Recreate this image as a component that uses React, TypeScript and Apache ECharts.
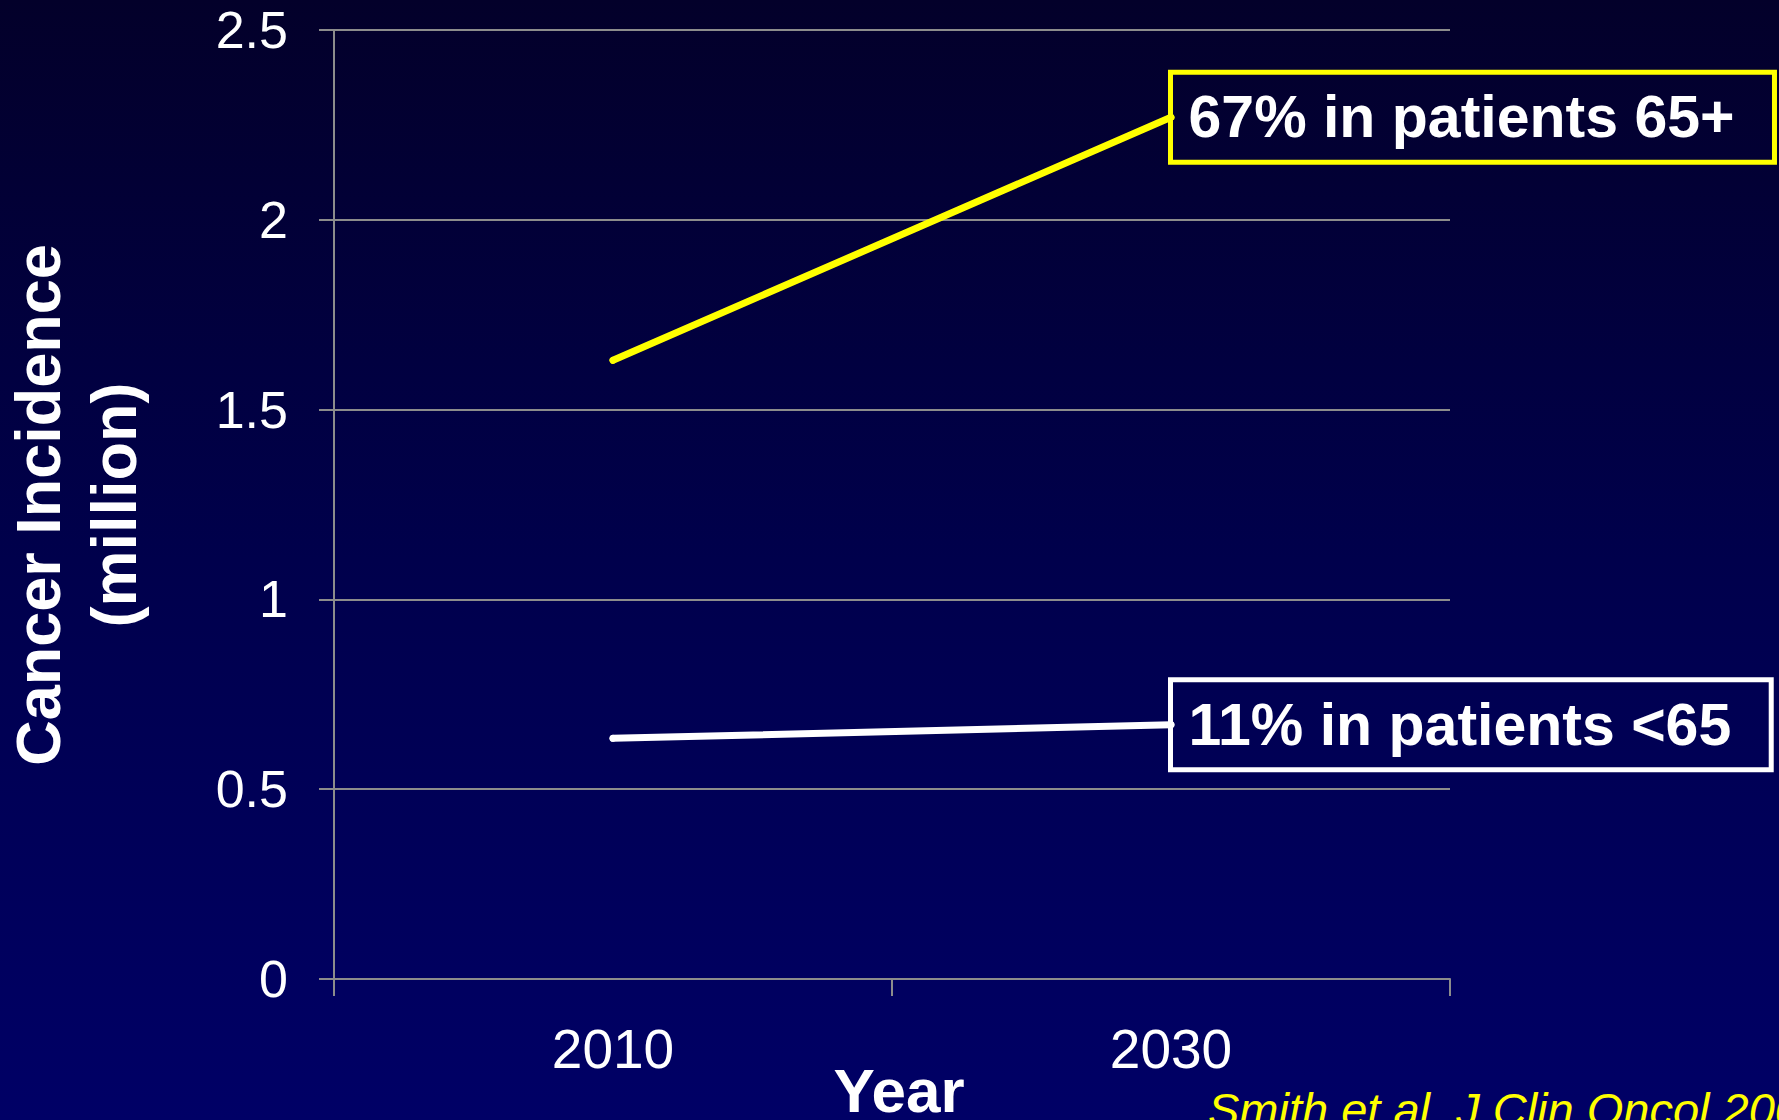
import React, { useEffect, useRef } from 'react';
import * as echarts from 'echarts';

const years = ['2010', '2030'];
const olderValues = [1.63, 2.27];
const youngerValues = [0.634, 0.67];
const olderLabel = '67% in patients 65+';
const youngerLabel = '11% in patients <65';
const yMin = 0;
const yMax = 2.5;
const yStep = 0.5;
const yTitle = 'Cancer Incidence\n(million)';
const xTitle = 'Year';
const citation = 'Smith et al. J Clin Oncol 2009';

const FONT = "'Liberation Sans', Arial, Helvetica, sans-serif";
const GRID_GRAY = '#8c8c8c';

function boxLabel(text: string, border: string) {
  return {
    show: true,
    position: 'right',
    distance: -4,
    formatter: text,
    color: '#ffffff',
    fontSize: 59,
    fontWeight: 'bold',
    fontFamily: FONT,
    lineHeight: 62,
    borderColor: border,
    borderWidth: 5,
    padding: [14, 40, 14, 18],
  };
}

function withEndLabel(values: number[], text: string, border: string) {
  return values.map((v, i) =>
    i === values.length - 1 ? { value: v, label: boxLabel(text, border) } : v
  );
}

export default function App() {
  const ref = useRef<HTMLDivElement>(null);
  useEffect(() => {
    document.body.style.margin = '0';
    const chart = echarts.init(ref.current!, null, { renderer: 'svg' });
    chart.setOption({
      animation: false,
      backgroundColor: 'transparent',
      grid: {
        left: 334,
        right: 329,
        top: 30,
        bottom: 141,
        containLabel: false,
        outerBoundsMode: 'none',
      },
      xAxis: {
        type: 'category',
        data: years,
        boundaryGap: true,
        axisLine: { show: true, lineStyle: { color: GRID_GRAY, width: 2 } },
        axisTick: { show: true, length: 17, lineStyle: { color: GRID_GRAY, width: 2 } },
        axisLabel: { color: '#ffffff', fontSize: 55, fontFamily: FONT, margin: 42 },
        splitLine: { show: false },
        name: xTitle,
        nameLocation: 'middle',
        nameGap: 80,
        nameMoveOverlap: false,
        nameTextStyle: {
          color: '#ffffff',
          fontSize: 62,
          fontWeight: 'bold',
          fontFamily: FONT,
          padding: [0, 0, 0, 14],
        },
      },
      yAxis: {
        type: 'value',
        min: yMin,
        max: yMax,
        interval: yStep,
        axisLine: { show: true, lineStyle: { color: GRID_GRAY, width: 2 } },
        axisTick: { show: true, length: 15, lineStyle: { color: GRID_GRAY, width: 2 } },
        axisLabel: { color: '#ffffff', fontSize: 52, fontFamily: FONT, margin: 46 },
        splitLine: { show: true, lineStyle: { color: GRID_GRAY, width: 2 } },
      },
      series: [
        {
          type: 'line',
          data: withEndLabel(olderValues, olderLabel, '#FFFF00'),
          symbol: 'circle',
          symbolSize: 7,
          itemStyle: { color: '#FFFF00' },
          lineStyle: { color: '#FFFF00', width: 7, cap: 'round' },
          label: { show: false },
          silent: true,
          z: 5,
        },
        {
          type: 'line',
          data: withEndLabel(youngerValues, youngerLabel, '#FFFFFF'),
          symbol: 'circle',
          symbolSize: 7,
          itemStyle: { color: '#FFFFFF' },
          lineStyle: { color: '#FFFFFF', width: 7, cap: 'round' },
          label: { show: false },
          silent: true,
          z: 5,
        },
      ],
      graphic: [
        {
          type: 'text',
          x: 76,
          y: 505,
          rotation: Math.PI / 2,
          style: {
            text: yTitle,
            fill: '#ffffff',
            fontSize: 63,
            fontWeight: 'bold',
            fontFamily: FONT,
            align: 'center',
            verticalAlign: 'middle',
            lineHeight: 76,
          },
        },
        {
          type: 'text',
          x: 1208,
          y: 1086,
          style: {
            text: citation,
            fill: '#FFFF00',
            fontSize: 47,
            fontStyle: 'italic',
            fontFamily: FONT,
            align: 'left',
            verticalAlign: 'top',
          },
        },
      ],
    });
    return () => chart.dispose();
  }, []);
  return (
    <div
      ref={ref}
      style={{
        width: 1779,
        height: 1120,
        background: 'linear-gradient(180deg, #03002a 0%, #00004c 50%, #000066 100%)',
      }}
    />
  );
}
